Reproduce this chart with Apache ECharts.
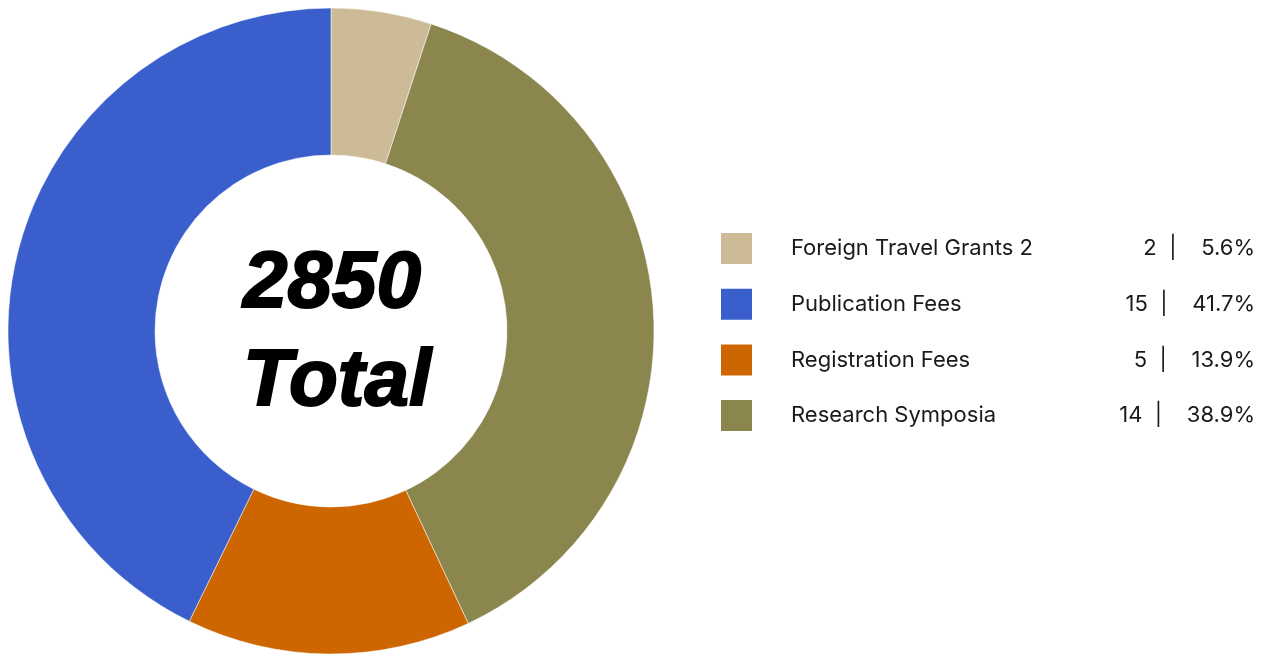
<!DOCTYPE html>
<html>
<head>
<meta charset="utf-8">
<script src="https://cdn.jsdelivr.net/npm/echarts@6/dist/echarts.min.js"></script>
<style>
  html, body { margin: 0; padding: 0; background: #ffffff; }
  #main { width: 1262px; height: 655px; }
</style>
</head>
<body>
<div id="main"></div>
<script>
// slices in drawing order (clockwise from 12 o'clock)
const categories = ['Foreign Travel Grants 2', 'Research Symposia', 'Registration Fees', 'Publication Fees'];
// slice sizes (amounts, summing to the total in the centre)
const amounts = [143, 1083, 405, 1219];
// counts shown in the legend
const counts = [2, 14, 5, 15];
const colors = ['#CDBA96', '#8B864E', '#CD6600', '#3A5FCD'];
// legend is listed alphabetically
const legendOrder = ['Foreign Travel Grants 2', 'Publication Fees', 'Registration Fees', 'Research Symposia'];
const totalLabel = '2850';

const countSum = counts.reduce((a, b) => a + b, 0);

let myChart = echarts.init(document.getElementById('main'));

let option = {
  animation: false,
  legend: {
    orient: 'vertical',
    left: 719,
    top: 231,
    padding: 0,
    icon: 'rect',
    itemWidth: 33,
    itemHeight: 33,
    itemGap: 20.7,
    selectedMode: false,
    data: legendOrder,
    formatter: function (name) {
      let i = categories.indexOf(name);
      let pct = (counts[i] / countSum * 100).toFixed(1) + '%';
      return '{gap|}{name|' + name + '}{num|' + counts[i] + '  |    ' + pct + '}';
    },
    textStyle: {
      fontFamily: 'Inter',
      fontSize: 22,
      lineHeight: 33,
      color: '#1a1a1a',
      rich: {
        gap: { width: 33, lineHeight: 33 },
        name: { width: 300, lineHeight: 33, fontFamily: 'Inter', fontSize: 22, color: '#1a1a1a' },
        num: { width: 164, lineHeight: 33, align: 'right', fontFamily: 'Inter', fontSize: 22, color: '#1a1a1a' }
      }
    }
  },
  graphic: [
    {
      type: 'text',
      left: 362 - 120,
      top: 236,
      style: {
        text: totalLabel + '\nTotal',
        width: 240,
        align: 'center',
        fontFamily: 'Liberation Sans',
        fontSize: 80,
        fontWeight: 'bold',
        fontStyle: 'italic',
        lineHeight: 98,
        fill: '#000000',
        stroke: '#000000',
        lineWidth: 2
      }
    }
  ],
  series: [
    {
      type: 'pie',
      center: [331, 331],
      radius: [176, 323],
      startAngle: 90,
      clockwise: true,
      label: { show: false },
      labelLine: { show: false },
      emphasis: { disabled: true },
      itemStyle: { borderColor: '#ffffff', borderWidth: 0.5 },
      data: categories.map((c, i) => ({
        name: c,
        value: amounts[i],
        itemStyle: { color: colors[i] }
      }))
    }
  ]
};

myChart.setOption(option);
</script>
</body>
</html>
